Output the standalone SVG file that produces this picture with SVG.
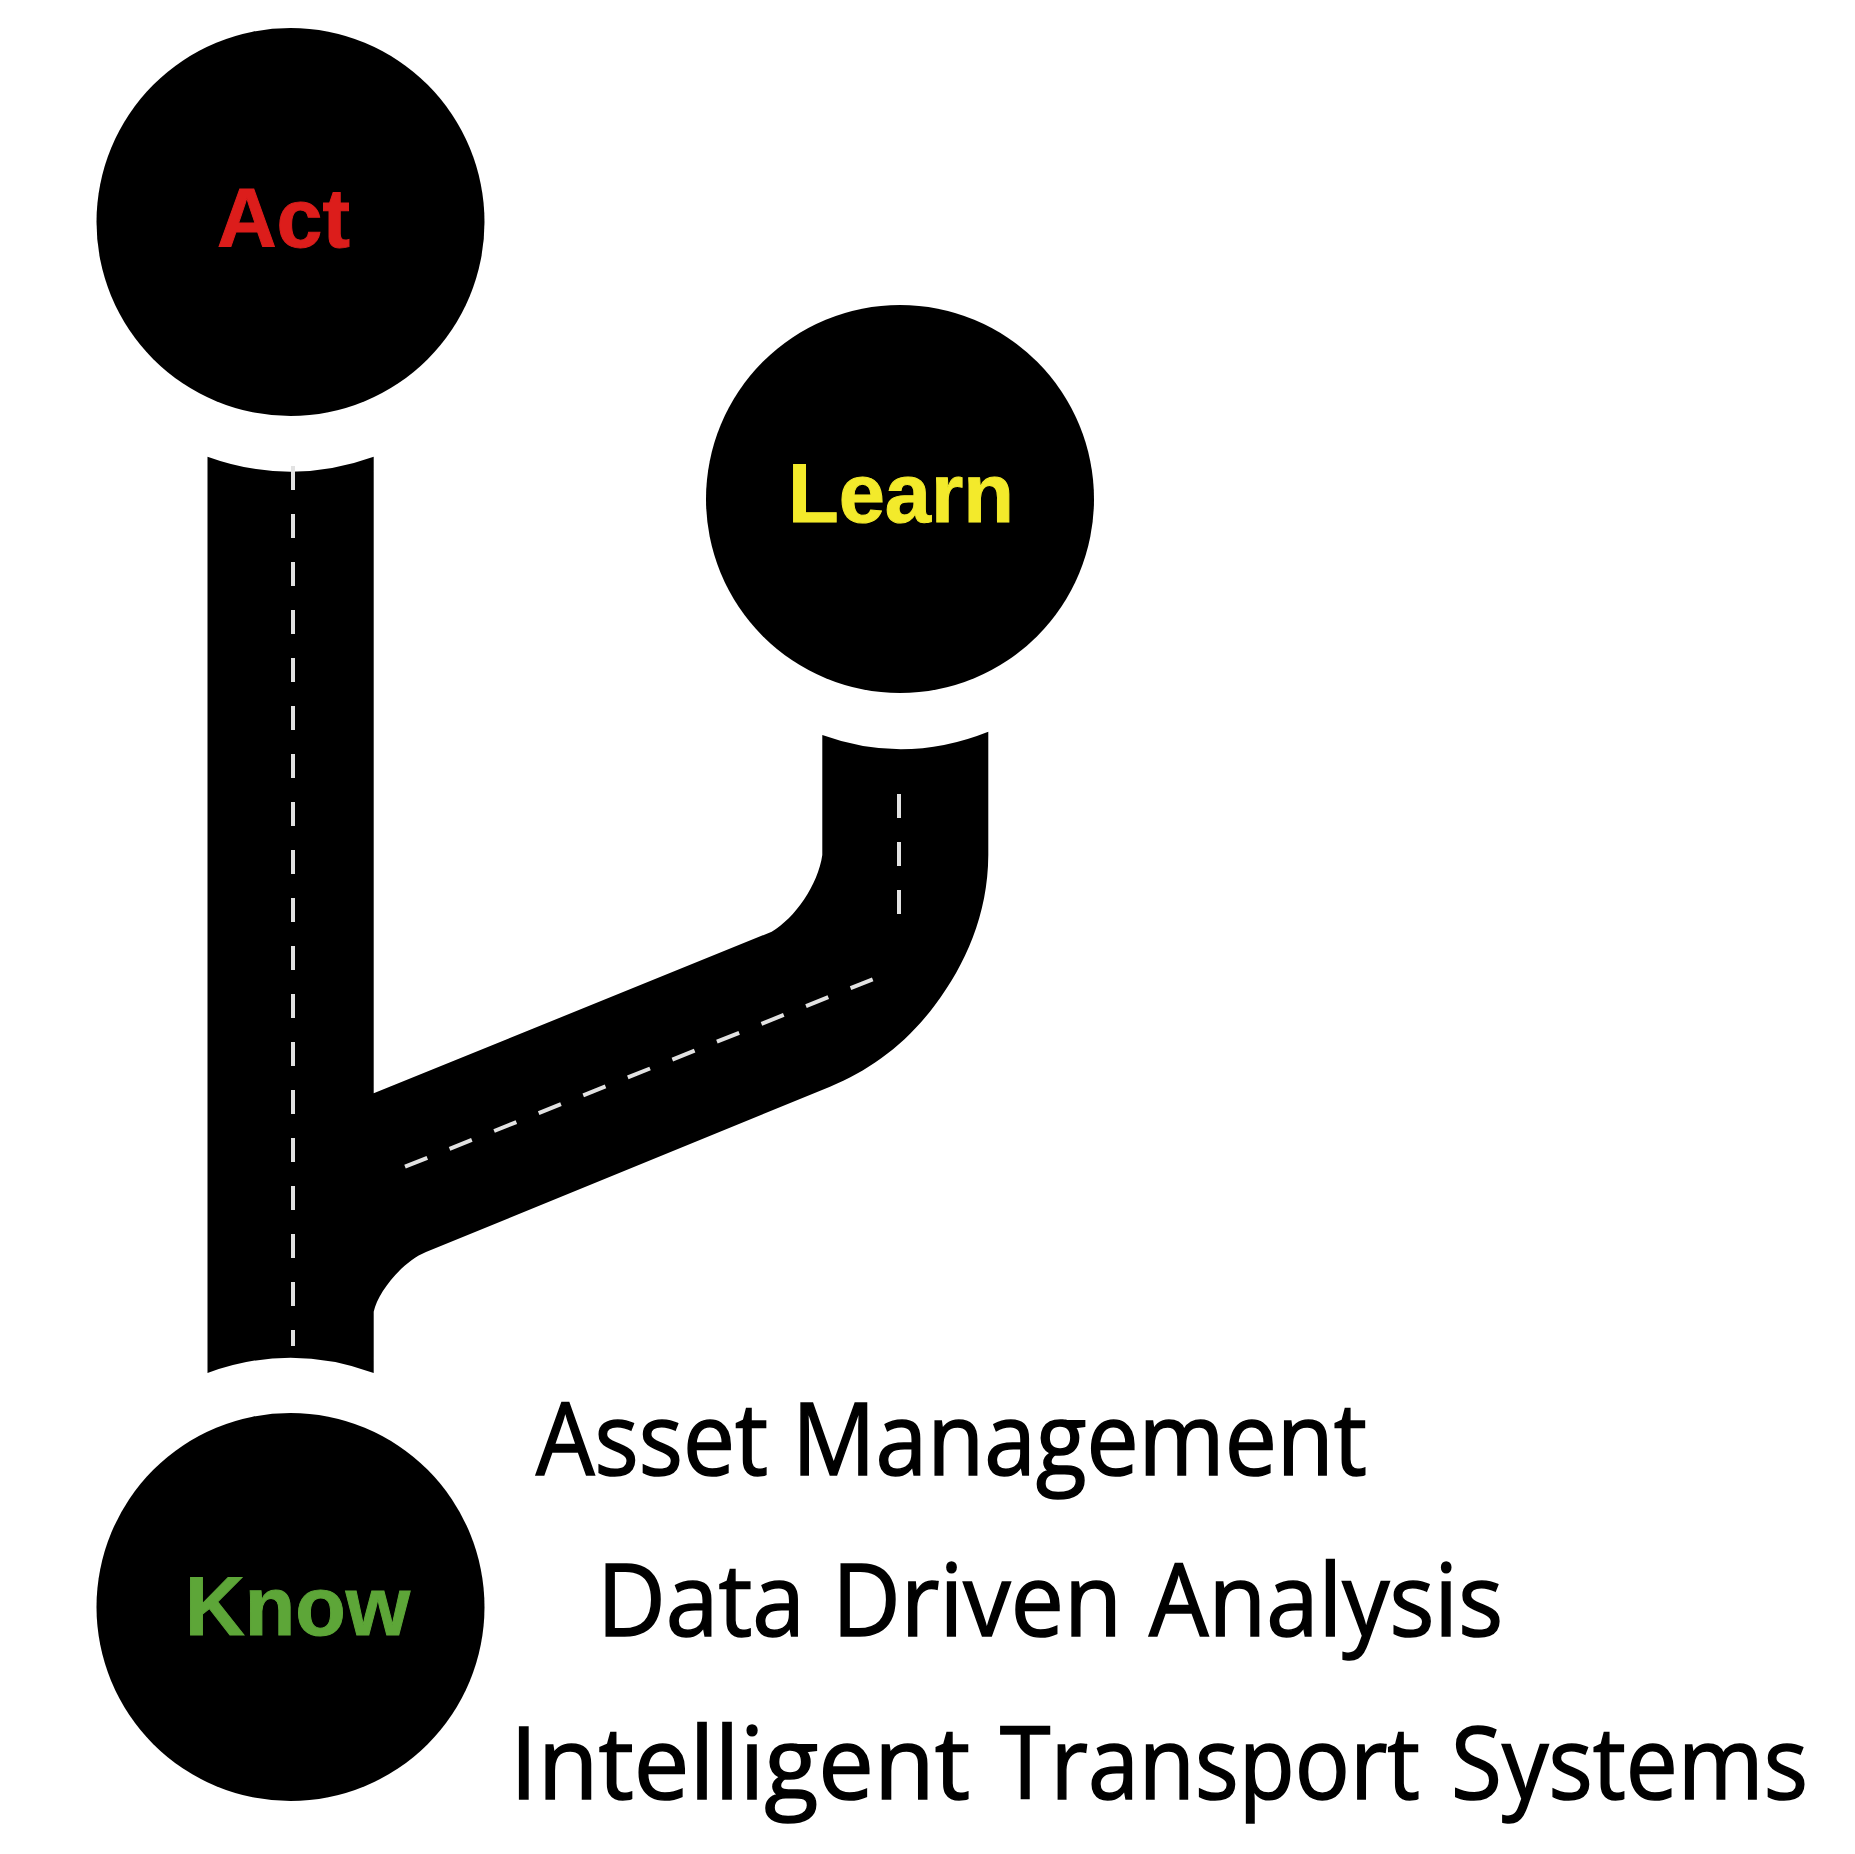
<svg xmlns="http://www.w3.org/2000/svg" width="1855" height="1854" viewBox="0 0 1855 1854">
<style>
.c{fill:#000}
.r{fill:#000}
.d{fill:none;stroke:#e2e2e2;stroke-width:4;stroke-dasharray:24 24}
.n{font-family:"Liberation Sans",Arial,sans-serif;font-weight:700;font-size:84px;stroke-width:1px}
.act{fill:#dc1d1b;stroke:#dc1d1b}
.learn{fill:#f3ea2b;stroke:#f3ea2b}
.know{fill:#5da638;stroke:#5da638}
.t{font-family:"Open Sans",sans-serif;font-size:100px;fill:#000;stroke:#000;stroke-width:1.6px}
</style>
<rect width="1855" height="1854" fill="#fff"/>
<g id="connectors">
<path class="r" d="M207.5 456.7Q290.5 486.7 373.7 456.7L373.7 1093.3L771.7 931.7C795 918 818 885 822.3 855L822.3 735Q905 765 988.3 731.7L988.3 855C988 915 965 965 935 1005C905 1045 870 1070 830 1086.7L426 1252C402 1262 378 1292 373.7 1311.7L373.7 1373Q290.5 1342.4 207.5 1373Z"/>
<path class="d" d="M293 466V1346"/>
<path class="d" d="M899 794V914"/>
<path class="d" d="M405 1166.7L872.7 979.3"/>
</g>
<g id="act"><circle class="c" cx="290.5" cy="222" r="194"/><text class="n act" x="217" y="247" textLength="133" lengthAdjust="spacingAndGlyphs">Act</text></g>
<g id="learn"><circle class="c" cx="900" cy="499" r="194"/><text class="n learn" x="788" y="522" textLength="226" lengthAdjust="spacingAndGlyphs">Learn</text></g>
<g id="know"><circle class="c" cx="290.5" cy="1607" r="194"/><text class="n know" x="185" y="1635" textLength="225" lengthAdjust="spacingAndGlyphs">Know</text></g>
<g id="labels">
<text class="t" y="1475"><tspan x="536" textLength="232" lengthAdjust="spacingAndGlyphs">Asset</tspan> <tspan x="792" textLength="575" lengthAdjust="spacingAndGlyphs">Management</tspan></text>
<text class="t" y="1636"><tspan x="597" textLength="208" lengthAdjust="spacingAndGlyphs">Data</tspan> <tspan x="832" textLength="290" lengthAdjust="spacingAndGlyphs">Driven</tspan> <tspan x="1149" textLength="354" lengthAdjust="spacingAndGlyphs">Analysis</tspan></text>
<text class="t" y="1799"><tspan x="510" textLength="460" lengthAdjust="spacingAndGlyphs">Intelligent</tspan> <tspan x="1000" textLength="420" lengthAdjust="spacingAndGlyphs">Transport</tspan> <tspan x="1451" textLength="357" lengthAdjust="spacingAndGlyphs">Systems</tspan></text>
</g>
</svg>
